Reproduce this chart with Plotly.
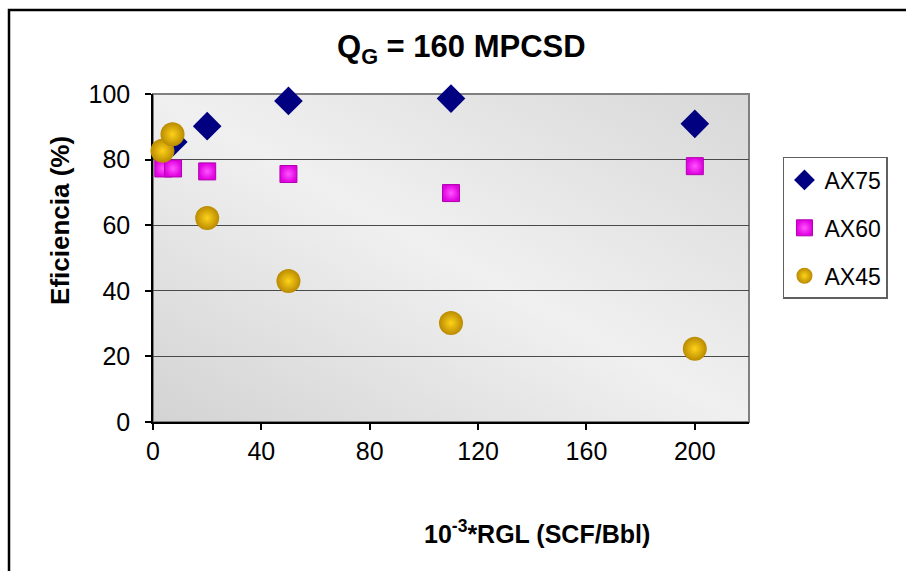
import base64
import plotly.graph_objects as go

# Gas rate 160 MPCSD: separation efficiency vs gas-liquid ratio
rgl_ax75 = [7.5, 20, 50, 110, 200]
eff_ax75 = [85.4, 90.2, 97.9, 98.6, 90.9]

rgl_ax60 = [3.8, 7.4, 20, 50, 110, 200]
eff_ax60 = [77.3, 77.3, 76.4, 75.6, 69.8, 78.0]

rgl_ax45 = [3.5, 7.2, 20, 50, 110, 200]
eff_ax45 = [82.7, 87.7, 62.2, 43.0, 30.2, 22.3]

x_ticks = [0, 40, 80, 120, 160, 200]
y_ticks = [0, 20, 40, 60, 80, 100]

FONT = "Liberation Sans, Arial, sans-serif"

# soft diagonal grey fill for the plotting area
svg = (
    '<svg xmlns="http://www.w3.org/2000/svg" width="400" height="220" preserveAspectRatio="none">'
    '<defs><linearGradient id="g" x1="0" y1="1" x2="1" y2="0">'
    '<stop offset="0" stop-color="#d3d3d3"/>'
    '<stop offset="0.5" stop-color="#f0f0f0"/>'
    '<stop offset="1" stop-color="#d8d8d8"/>'
    '</linearGradient></defs>'
    '<rect width="400" height="220" fill="url(#g)"/></svg>'
)
bg_src = "data:image/svg+xml;base64," + base64.b64encode(svg.encode()).decode()

fig = go.Figure()

fig.add_trace(go.Scatter(
    x=rgl_ax75, y=eff_ax75, mode="markers", name="AX75", legendgroup="a",
    marker=dict(symbol="diamond", size=22, color="#000080", line=dict(width=0)),
    cliponaxis=False,
))
fig.add_trace(go.Scatter(
    x=rgl_ax60, y=eff_ax60, mode="markers", name="AX60", legendgroup="b",
    marker=dict(symbol="square", size=17, color="#e000e0",
                gradient=dict(type="radial", color="#ff55ff"),
                line=dict(width=1, color="#b000b0")),
    cliponaxis=False,
))
fig.add_trace(go.Scatter(
    x=rgl_ax45, y=eff_ax45, mode="markers", name="AX45", legendgroup="c",
    marker=dict(symbol="circle", size=24, color="#b98a00",
                gradient=dict(type="radial", color="#ffd21a"),
                line=dict(width=0)),
    cliponaxis=False,
))

fig.update_layout(
    width=906, height=571,
    margin=dict(l=153, r=157, t=94, b=149),
    paper_bgcolor="white",
    plot_bgcolor="#e4e4e4",
    font=dict(family=FONT, color="black"),
    showlegend=True,
    legend=dict(
        x=1.057, y=0.808, xanchor="left", yanchor="top",
        bgcolor="white", bordercolor="#606060", borderwidth=1.5,
        font=dict(size=23, family=FONT),
        tracegroupgap=15, itemwidth=30,
    ),
    xaxis=dict(
        range=[0, 220], tickvals=x_ticks, ticktext=[str(v) for v in x_ticks],
        showgrid=False, zeroline=False,
        showline=True, linecolor="black", linewidth=1.5,
        ticks="outside", ticklen=6, tickcolor="black", tickwidth=1.5,
        tickfont=dict(size=25, family=FONT), layer="below traces",
    ),
    yaxis=dict(
        range=[0, 100], tickvals=y_ticks, ticktext=[str(v) for v in y_ticks],
        showgrid=True, gridcolor="#4a4a4a", gridwidth=1.2, zeroline=False,
        showline=True, linecolor="black", linewidth=1.5,
        ticks="outside", ticklen=6, tickcolor="black", tickwidth=1.5,
        tickfont=dict(size=25, family=FONT), ticklabelstandoff=10,
        layer="below traces",
    ),
    images=[dict(
        source=bg_src, xref="paper", yref="paper", x=0, y=1,
        sizex=1, sizey=1, sizing="stretch", layer="below",
        xanchor="left", yanchor="top",
    )],
    shapes=[
        # plotting-area frame
        dict(type="rect", xref="paper", yref="paper", x0=0, y0=0, x1=1, y1=1,
             line=dict(color="#808080", width=2), layer="between"),
        # outer chart border
        dict(type="rect", xref="paper", yref="paper",
             x0=-0.2416, y0=-0.5, x1=1.3, y1=1.256,
             line=dict(color="black", width=2.5)),
    ],
    annotations=[
        dict(text="<b>Q<sub>G</sub> = 160 MPCSD</b>", xref="paper", yref="paper",
             x=0.518, y=1.137, showarrow=False, font=dict(size=31, family=FONT),
             xanchor="center", yanchor="middle"),
        dict(text="<b>Eficiencia (%)</b>", xref="paper", yref="paper",
             x=-0.156, y=0.613, showarrow=False, textangle=-90,
             font=dict(size=26, family=FONT), xanchor="center", yanchor="middle"),
        dict(text="<b>10<sup>-3</sup>*RGL (SCF/Bbl)</b>", xref="paper", yref="paper",
             x=0.644, y=-0.335, showarrow=False,
             font=dict(size=25, family=FONT), xanchor="center", yanchor="middle"),
    ],
)

fig.write_html("out.html")
